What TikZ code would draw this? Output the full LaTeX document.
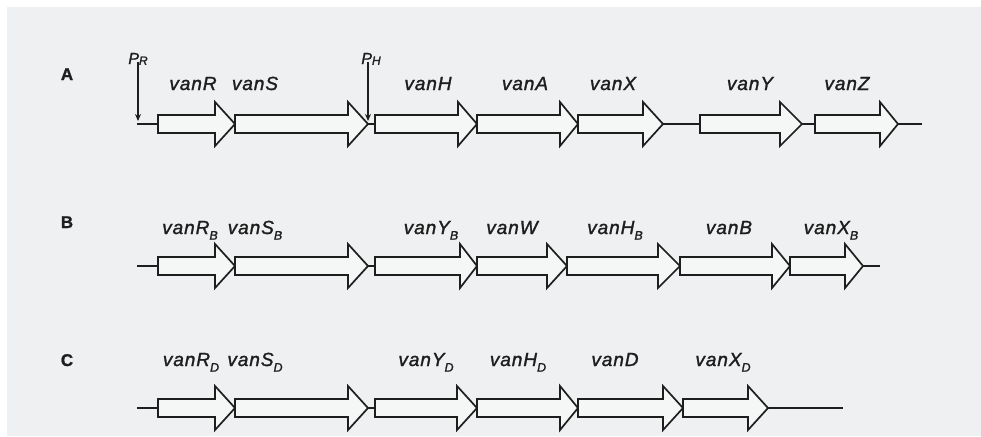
\documentclass[tikz,border=0pt]{standalone}
\usepackage{fontspec}
\setmainfont{Liberation Sans}
\newfontfamily\genefont[LetterSpace=5,FakeBold=1.4]{Liberation Sans}
\newfontfamily\markfont[FakeBold=1.2]{Liberation Sans}
\usetikzlibrary{arrows.meta}

\definecolor{paper}{HTML}{EEF0F1}
\definecolor{ink}{HTML}{1E1E1E}
\definecolor{genefill}{HTML}{F5F6F6}

% one gene: body start, head base, tip, axis height
\newcommand\genearrow[4]{%
  \filldraw[genebox] (#1,#4-9) -- (#2,#4-9) -- (#2,#4-22) -- (#3,#4)
    -- (#2,#4+22) -- (#2,#4+9) -- (#1,#4+9) -- cycle;}
% lowered subscript for gene names
\newcommand\gsub[1]{\raisebox{-0.3em}{\fontsize{12.5}{12.5}\selectfont #1}}

\begin{document}
\begin{tikzpicture}[x=1pt,y=-1pt,
  genebox/.style={draw=ink,fill=genefill,line width=1.7pt,line join=miter},
  backbone/.style={draw=ink,line width=1.7pt},
  genelabel/.style={anchor=base,inner sep=0pt,text=ink,
    font=\genefont\itshape\fontsize{19}{19}\selectfont},
  rowlabel/.style={anchor=base,inner sep=0pt,text=ink,
    font=\markfont\bfseries\fontsize{17}{17}\selectfont},
  promlabel/.style={anchor=base,inner sep=0pt,text=ink,
    font=\genefont\itshape\fontsize{16}{16}\selectfont},
  promarrow/.style={draw=ink,line width=1.3pt,-{Stealth[length=7pt,width=6pt]}}]

\useasboundingbox (0,0) rectangle (981,436);
\fill[white] (0,0) rectangle (981,436);
\fill[paper] (7,7) rectangle (981,436);

% ---------------- cluster A ----------------
\coordinate (A0) at (137,124);
\coordinate (A1) at (922,124);
\draw[backbone] (A0) -- (A1);
\genearrow{158}{215}{235}{124}
\genearrow{235}{348}{368}{124}
\genearrow{375}{458}{477}{124}
\genearrow{477}{560}{578}{124}
\genearrow{578}{643}{663}{124}
\genearrow{700}{780}{802}{124}
\genearrow{815}{880}{898}{124}

\node[rowlabel] (lA) at (67,80) {A};
\node[promlabel] (pR) at (138,64) {P\raisebox{-0.05em}{\fontsize{12}{12}\selectfont R}};
\node[promlabel] (pH) at (371,64) {P\raisebox{-0.05em}{\fontsize{12}{12}\selectfont H}};
\coordinate (pRend) at (138,121);
\coordinate (pHend) at (368,121);
\draw[promarrow] (pR.south -| pRend) ++(0,-3) -- (pRend);
\draw[promarrow] (pH.south -| pHend) ++(0,-3) -- (pHend);

\node[genelabel] (vanR) at (193,90) {vanR};
\node[genelabel] (vanS) at (255,90) {vanS};
\node[genelabel] (vanH) at (428,90) {vanH};
\node[genelabel] (vanA) at (525,90) {vanA};
\node[genelabel] (vanX) at (613,90) {vanX};
\node[genelabel] (vanY) at (750,90) {vanY};
\node[genelabel] (vanZ) at (847,90) {vanZ};

% ---------------- cluster B ----------------
\coordinate (B0) at (137,266);
\coordinate (B1) at (880,266);
\draw[backbone] (B0) -- (B1);
\genearrow{158}{215}{235}{266}
\genearrow{235}{348}{368}{266}
\genearrow{375}{460}{477}{266}
\genearrow{477}{547}{567}{266}
\genearrow{567}{658}{680}{266}
\genearrow{680}{772}{790}{266}
\genearrow{790}{845}{863}{266}

\node[rowlabel] (lB) at (67,228) {B};
\node[genelabel] (vanRB) at (190,234) {vanR\gsub{B}};
\node[genelabel] (vanSB) at (255,234) {vanS\gsub{B}};
\node[genelabel] (vanYB) at (431,234) {vanY\gsub{B}};
\node[genelabel] (vanW)  at (512,234) {vanW};
\node[genelabel] (vanHB) at (615,234) {vanH\gsub{B}};
\node[genelabel] (vanB)  at (729,234) {vanB};
\node[genelabel] (vanXB) at (831,234) {vanX\gsub{B}};

% ---------------- cluster C ----------------
\coordinate (C0) at (137,408);
\coordinate (C1) at (843,408);
\draw[backbone] (C0) -- (C1);
\genearrow{158}{215}{235}{408}
\genearrow{235}{348}{368}{408}
\genearrow{375}{457}{477}{408}
\genearrow{477}{560}{578}{408}
\genearrow{578}{663}{683}{408}
\genearrow{683}{748}{768}{408}

\node[rowlabel] (lC) at (67,366) {C};
\node[genelabel] (vanRD) at (191,366) {vanR\gsub{D}};
\node[genelabel] (vanSD) at (255,366) {vanS\gsub{D}};
\node[genelabel] (vanYD) at (426,366) {vanY\gsub{D}};
\node[genelabel] (vanHD) at (518,366) {vanH\gsub{D}};
\node[genelabel] (vanD)  at (615,366) {vanD};
\node[genelabel] (vanXD) at (723,366) {vanX\gsub{D}};
\end{tikzpicture}
\end{document}
